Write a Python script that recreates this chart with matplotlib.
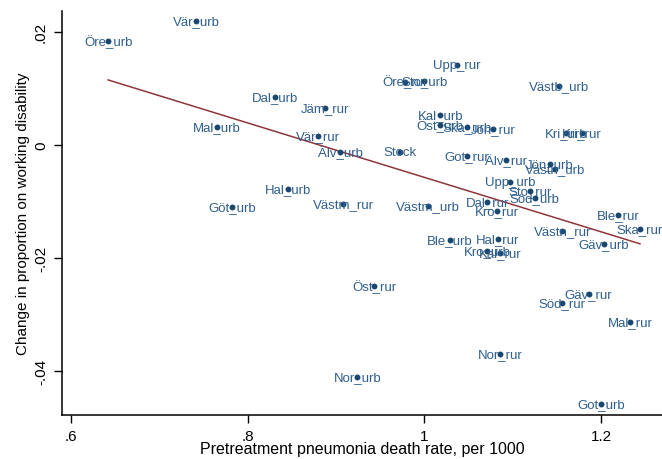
import numpy as np
import matplotlib
matplotlib.use("Agg")
import matplotlib.pyplot as plt

labels = ["Öre_urb", "Vär_urb", "Mal_urb", "Dal_urb", "Jäm_rur", "Vär_rur", "Älv_urb",
          "Stock", "Upp_rur", "Öre_rur", "Sto_urb", "Västb_urb", "Kal_urb", "Öst_urb",
          "Ska_urb", "Jön_rur", "Kri_urb", "Kri_rur", "Got_rur", "Älv_rur", "Jön_urb",
          "Västn_urb", "Upp_urb", "Sto_rur", "Söd_urb", "Dal_rur", "Kro_rur", "Västm_urb",
          "Ble_rur", "Ska_rur", "Västn_rur", "Gäv_urb", "Ble_urb", "Hal_rur", "Kro_urb",
          "Kal_rur", "Hal_urb", "Göt_urb", "Västm_rur", "Öst_rur", "Gäv_rur", "Söd_rur",
          "Mal_rur", "Nor_rur", "Nor_urb", "Got_urb"]
death_rate = [0.642, 0.7415, 0.765, 0.831, 0.888, 0.880, 0.905,
              0.972, 1.037, 0.978, 1.000, 1.152, 1.018, 1.018,
              1.048, 1.078, 1.160, 1.178, 1.048, 1.092, 1.142,
              1.148, 1.097, 1.120, 1.125, 1.071, 1.082, 1.004,
              1.219, 1.244, 1.156, 1.203, 1.029, 1.083, 1.071,
              1.086, 0.846, 0.782, 0.908, 0.943, 1.186, 1.156,
              1.233, 1.086, 0.924, 1.200]
change = [0.0184, 0.0219, 0.0032, 0.0085, 0.0065, 0.0016, -0.0012,
          -0.0012, 0.0142, 0.0112, 0.0113, 0.0104, 0.0053, 0.0035,
          0.0032, 0.0028, 0.0021, 0.0021, -0.0019, -0.0027, -0.0034,
          -0.0042, -0.0065, -0.0081, -0.0094, -0.0101, -0.0117, -0.0108,
          -0.0124, -0.0149, -0.0152, -0.0175, -0.0168, -0.0166, -0.0188,
          -0.0191, -0.0078, -0.0110, -0.0104, -0.0250, -0.0264, -0.0280,
          -0.0313, -0.0370, -0.0411, -0.0458]
xticks = [0.6, 0.8, 1.0, 1.2]
xticklabels = [".6", ".8", "1", "1.2"]
yticks = [-0.04, -0.02, 0.0, 0.02]
yticklabels = ["-.04", "-.02", "0", ".02"]

plt.rcParams['font.family'] = ['Liberation Sans', 'DejaVu Sans']

fig = plt.figure(figsize=(6.62, 4.60), dpi=100)
ax = fig.add_axes([62/662, 1-416/460, 1-62/662, (416-12)/460])

x = np.array(death_rate)
y = np.array(change)
ax.scatter(x, y, s=18, color="#1a476f", zorder=3, linewidths=0)
for xi, yi, lab in zip(x, y, labels):
    ax.text(xi, yi, lab, ha="center", va="center", fontsize=9.5,
            color="#2f5f8e", zorder=4)

b, a = np.polyfit(x, y, 1)
xs = np.array([x.min(), x.max()])
ax.plot(xs, a + b*xs, color="#90353b", lw=1.1, zorder=2)

ax.set_xlim(0.5898, 1.269)
ax.set_ylim(-0.0478, 0.0237)
ax.set_xticks(xticks)
ax.set_xticklabels(xticklabels, fontsize=11)
ax.set_yticks(yticks)
ax.set_yticklabels(yticklabels, fontsize=11, rotation=90, va="center")
ax.tick_params(direction="out", length=6, width=1, pad=4)
for s in ["top", "right"]:
    ax.spines[s].set_visible(False)
for s in ["left", "bottom"]:
    ax.spines[s].set_linewidth(1.1)
ax.set_xlabel("Pretreatment pneumonia death rate, per 1000", fontsize=11.5, labelpad=-1)
ax.set_ylabel("Change in proportion on working disability", fontsize=11, labelpad=3)

fig.savefig("out.png", dpi=100)
